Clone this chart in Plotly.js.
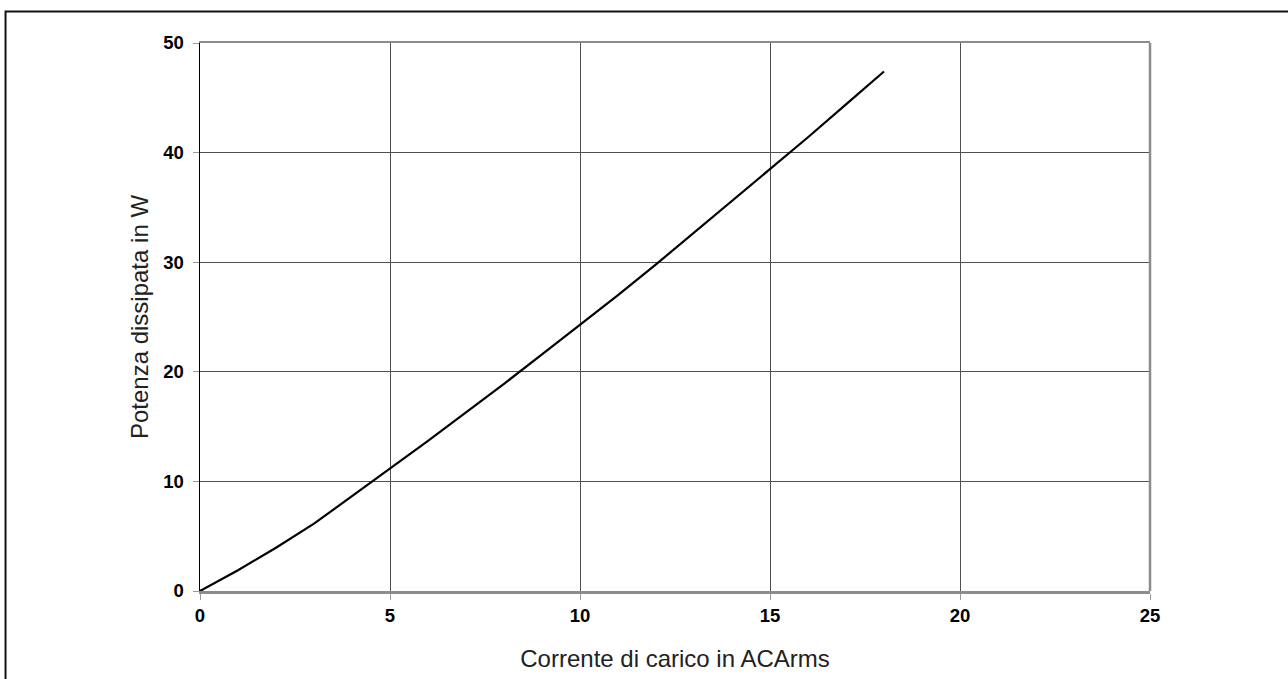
<!DOCTYPE html>
<html>
<head>
<meta charset="utf-8">
<script src="https://cdn.plot.ly/plotly-3.0.1.min.js"></script>
<style>
html,body{margin:0;padding:0;background:#fff;}
#chart{width:1288px;height:679px;}
</style>
</head>
<body>
<div id="chart"></div>
<script>
// Load current (A rms) and dissipated power (W)
const corrente = [0, 1, 2, 3, 4, 5, 6, 7, 8, 9, 10, 11, 12, 13, 14, 15, 16, 17, 18];
const potenza  = [0, 1.9, 3.95, 6.15, 8.65, 11.15, 13.7, 16.3, 18.9, 21.6, 24.3, 27.0, 29.8, 32.7, 35.6, 38.5, 41.4, 44.4, 47.4];
const xTicks = [0, 5, 10, 15, 20, 25];
const yTicks = [0, 10, 20, 30, 40, 50];
const xTitle = 'Corrente di carico in ACArms';
const yTitle = 'Potenza dissipata in W';

const trace = {
  x: corrente,
  y: potenza,
  type: 'scatter',
  mode: 'lines',
  line: {color: '#000', width: 2.2},
  hoverinfo: 'x+y'
};

const tickFont = {family: '"Liberation Sans", Arial, sans-serif', size: 18.5, color: '#000', weight: 'bold'};
const titleFont = {family: '"Liberation Sans", Arial, sans-serif', size: 24, color: '#222'};

const layout = {
  width: 1288,
  height: 679,
  margin: {l: 200, r: 138, t: 43, b: 88},
  paper_bgcolor: '#fff',
  plot_bgcolor: '#fff',
  showlegend: false,
  xaxis: {
    range: [0, 25],
    tickvals: xTicks,
    ticktext: xTicks.map(String),
    showgrid: true,
    gridcolor: '#505050',
    gridwidth: 1,
    zeroline: false,
    showline: true,
    mirror: true,
    linecolor: '#8c8c8c',
    linewidth: 2.5,
    ticks: 'outside',
    ticklen: 6,
    tickcolor: '#9a9a9a',
    tickwidth: 1,
    tickfont: tickFont,
    title: {text: xTitle, font: titleFont, standoff: 26},
    automargin: false
  },
  yaxis: {
    range: [0, 50],
    tickvals: yTicks,
    ticktext: yTicks.map(String),
    showgrid: true,
    gridcolor: '#505050',
    gridwidth: 1,
    zeroline: false,
    showline: true,
    mirror: false,
    linecolor: '#000',
    linewidth: 1.5,
    ticks: 'outside',
    ticklen: 6,
    tickcolor: '#9a9a9a',
    tickwidth: 1,
    ticklabelstandoff: 5,
    tickfont: tickFont,
    title: {text: yTitle, font: titleFont, standoff: 8},
    automargin: false
  },
  shapes: [
    {type: 'line', xref: 'paper', yref: 'paper', x0: 1, x1: 1, y0: 0, y1: 1,
     line: {color: '#8c8c8c', width: 2.5}},
    {type: 'rect', xref: 'paper', yref: 'paper',
     x0: -0.2047, x1: 1.3, y0: -0.25, y1: 1.0575,
     line: {color: '#111', width: 2}, fillcolor: 'rgba(0,0,0,0)', layer: 'below'}
  ]
};

Plotly.newPlot('chart', [trace], layout, {displayModeBar: false, staticPlot: true});
</script>
</body>
</html>
